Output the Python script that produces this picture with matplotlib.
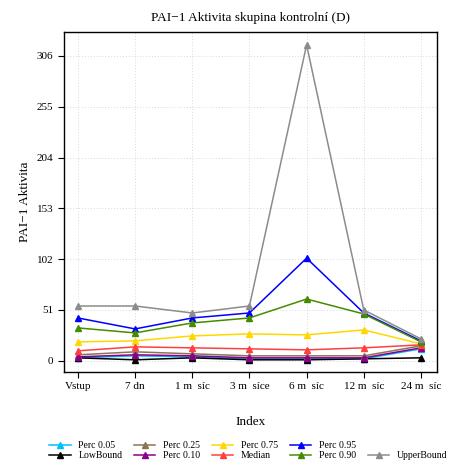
import matplotlib
matplotlib.use("Agg")
import matplotlib.pyplot as plt
from matplotlib.lines import Line2D

plt.rcParams["font.family"] = ["Liberation Serif", "DejaVu Serif"]

x_labels = ["Vstup", "7 dn", "1 m  síc", "3 m  síce", "6 m  síc", "12 m  síc", "24 m  síc"]
y_ticks = [0, 51, 102, 153, 204, 255, 306]

perc_05 = [3, 5, 4, 2, 2, 2, 12]
low_bound = [3, 1, 3, 1, 1, 2, 3]
perc_25 = [6, 9, 7, 5, 5, 5, 15]
perc_10 = [4, 6, 5, 3, 3, 3, 13]
perc_75 = [19, 20, 25, 27, 26, 31, 17]
median = [10, 14, 13, 12, 11, 13, 16]
perc_95 = [43, 32, 43, 48, 103, 48, 20]
perc_90 = [33, 28, 38, 43, 62, 47, 19]
upper_bound = [55, 55, 48, 55, 317, 51, 22]

series = [
    ("Perc 0.05", perc_05, "#00BFFF"),
    ("LowBound", low_bound, "black"),
    ("Perc 0.25", perc_25, "#8B7355"),
    ("Perc 0.10", perc_10, "#8B008B"),
    ("Perc 0.75", perc_75, "#FFD700"),
    ("Median", median, "#FF4040"),
    ("Perc 0.95", perc_95, "blue"),
    ("Perc 0.90", perc_90, "#458B00"),
    ("UpperBound", upper_bound, "#8C8C8C"),
]

fig = plt.figure(figsize=(4.5, 4.7), dpi=100)
ax = fig.add_axes([0.142, 0.209, 0.829, 0.723])

x = list(range(len(x_labels)))
handles = []
for name, values, color in series:
    (line,) = ax.plot(x, values, color=color, lw=1.1, marker="^", markersize=4.5, label=name)
    handles.append(line)

ax.set_xlim(-0.245, 6.28)
ax.set_ylim(-11, 330)
ax.set_xticks(x)
ax.set_xticklabels(x_labels, fontsize=8)
ax.set_yticks(y_ticks)
ax.set_yticklabels([str(t) for t in y_ticks], fontsize=8)
ax.tick_params(direction="out", length=4, width=0.8)
ax.grid(True, color="#D9D9D9", linestyle=(0, (1, 2)), linewidth=0.7)
for s in ax.spines.values():
    s.set_linewidth(1.0)

ax.set_title("PAI\u22121 Aktivita skupina kontrolní (D)", fontsize=9.5, pad=8)
ax.set_ylabel("PAI\u22121 Aktivita", fontsize=9.5)
ax.set_xlabel("Index", fontsize=9.5, labelpad=18)

# empty slot so UpperBound lands in the second row of the last column
blank = Line2D([], [], color="none")
order = handles[:8] + [blank, handles[8]]
labels = [h.get_label() for h in handles[:8]] + ["", handles[8].get_label()]
fig.legend(order, labels, loc="lower center", bbox_to_anchor=(0.552, 0.0), ncol=5,
           frameon=False, fontsize=7, handlelength=2.2, columnspacing=1.2,
           labelspacing=0.1, handletextpad=0.8, borderaxespad=0.6)

fig.savefig("out.png", dpi=100)
